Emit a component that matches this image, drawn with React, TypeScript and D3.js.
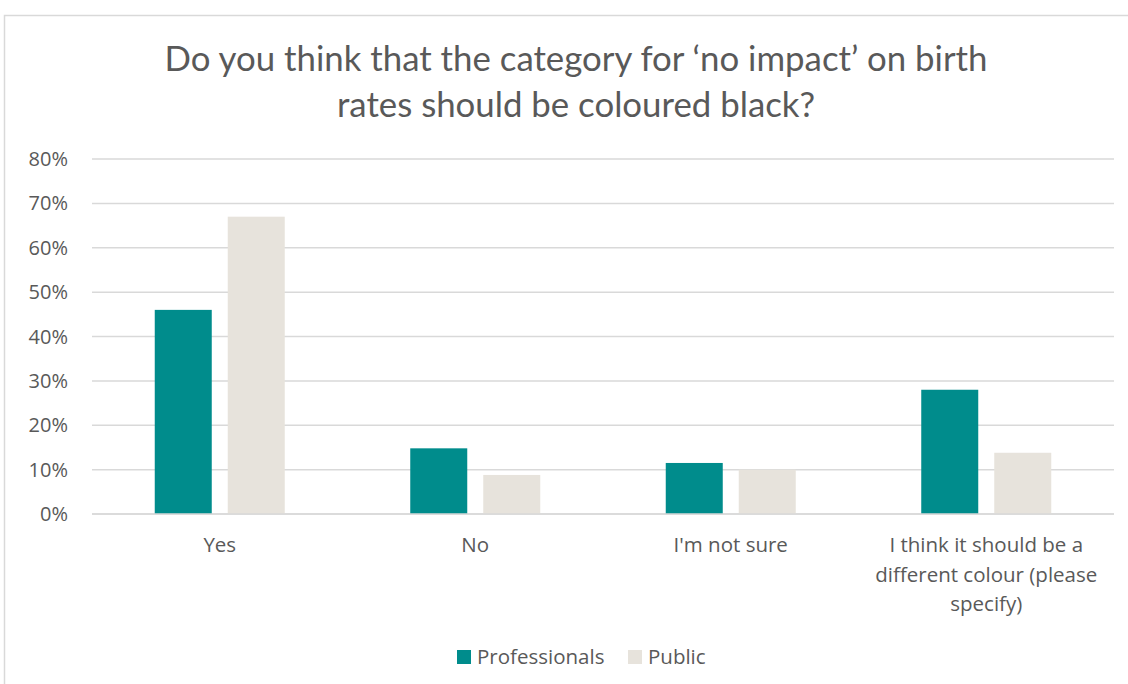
import React from "react";
import * as d3 from "d3";

const categories = ["Yes", "No", "I'm not sure", "I think it should be a different colour (please specify)"];
const categoryLines = [["Yes"], ["No"], ["I'm not sure"], ["I think it should be a", "different colour (please", "specify)"]];
const seriesNames = ["Professionals", "Public"];
const professionals = [0.46, 0.148, 0.115, 0.28];
const publicVals = [0.67, 0.088, 0.10, 0.138];
const yTicks = [0, 0.1, 0.2, 0.3, 0.4, 0.5, 0.6, 0.7, 0.8];
const colors = ["#008c8c", "#e7e3dc"];

export default function App() {
  const W = 1128, H = 684;
  const left = 92, right = 1114, top = 159, bottom = 514;
  const x = d3.scaleBand<string>().domain(categories).range([left, right]).paddingInner(0).paddingOuter(0);
  const y = d3.scaleLinear().domain([0, 0.8]).range([bottom, top]);
  const series = [professionals, publicVals];
  const barW = 57, gap = 16;
  const fmt = d3.format(".0%");
  const labelFont = "'Open Sans', 'DejaVu Sans', sans-serif";
  const titleFont = "Lato, 'Open Sans', sans-serif";
  return (
    <svg width={W} height={H} style={{ position: "absolute", left: 0, top: 0 }}>
      <rect x={0} y={0} width={W} height={H} fill="#fff" />
      <rect x={4.5} y={15.5} width={W + 10} height={H + 10} fill="#fff" stroke="#d9d9d9" strokeWidth={1.5} />
      <text x={576} y={71} textAnchor="middle" fontFamily={titleFont} fontSize={34.8} fill="#595959">
        Do you think that the category for ‘no impact’ on birth
      </text>
      <text x={576} y={117} textAnchor="middle" fontFamily={titleFont} fontSize={34.8} fill="#595959">
        rates should be coloured black?
      </text>
      {yTicks.map((t) => (
        <g key={t}>
          <line x1={left} x2={right} y1={y(t)} y2={y(t)} stroke="#d9d9d9" strokeWidth={1.5} />
          <text x={68} y={y(t)} dy="0.35em" textAnchor="end" fontFamily={labelFont} fontSize={20} fill="#595959">{fmt(t)}</text>
        </g>
      ))}
      {categories.map((c, i) => {
        const cx = (x(c) as number) + x.bandwidth() / 2;
        return (
          <g key={c}>
            {series.map((s, j) => {
              const bx = j === 0 ? cx - gap / 2 - barW : cx + gap / 2;
              return <rect key={j} x={bx} y={y(s[i])} width={barW} height={bottom - y(s[i])} fill={colors[j]} />;
            })}
            {categoryLines[i].map((ln, k) => (
              <text key={k} x={cx} y={552 + k * 29.5} textAnchor="middle" fontFamily={labelFont} fontSize={20.5} fill="#595959">{ln}</text>
            ))}
          </g>
        );
      })}
      <line x1={left} x2={right} y1={bottom} y2={bottom} stroke="#d9d9d9" strokeWidth={1.5} />
      {seriesNames.map((n, j) => {
        const lx = j === 0 ? 457 : 628;
        return (
          <g key={n}>
            <rect x={lx} y={650} width={14} height={14} fill={colors[j]} />
            <text x={lx + 20} y={664} fontFamily={labelFont} fontSize={20.5} fill="#595959">{n}</text>
          </g>
        );
      })}
    </svg>
  );
}
